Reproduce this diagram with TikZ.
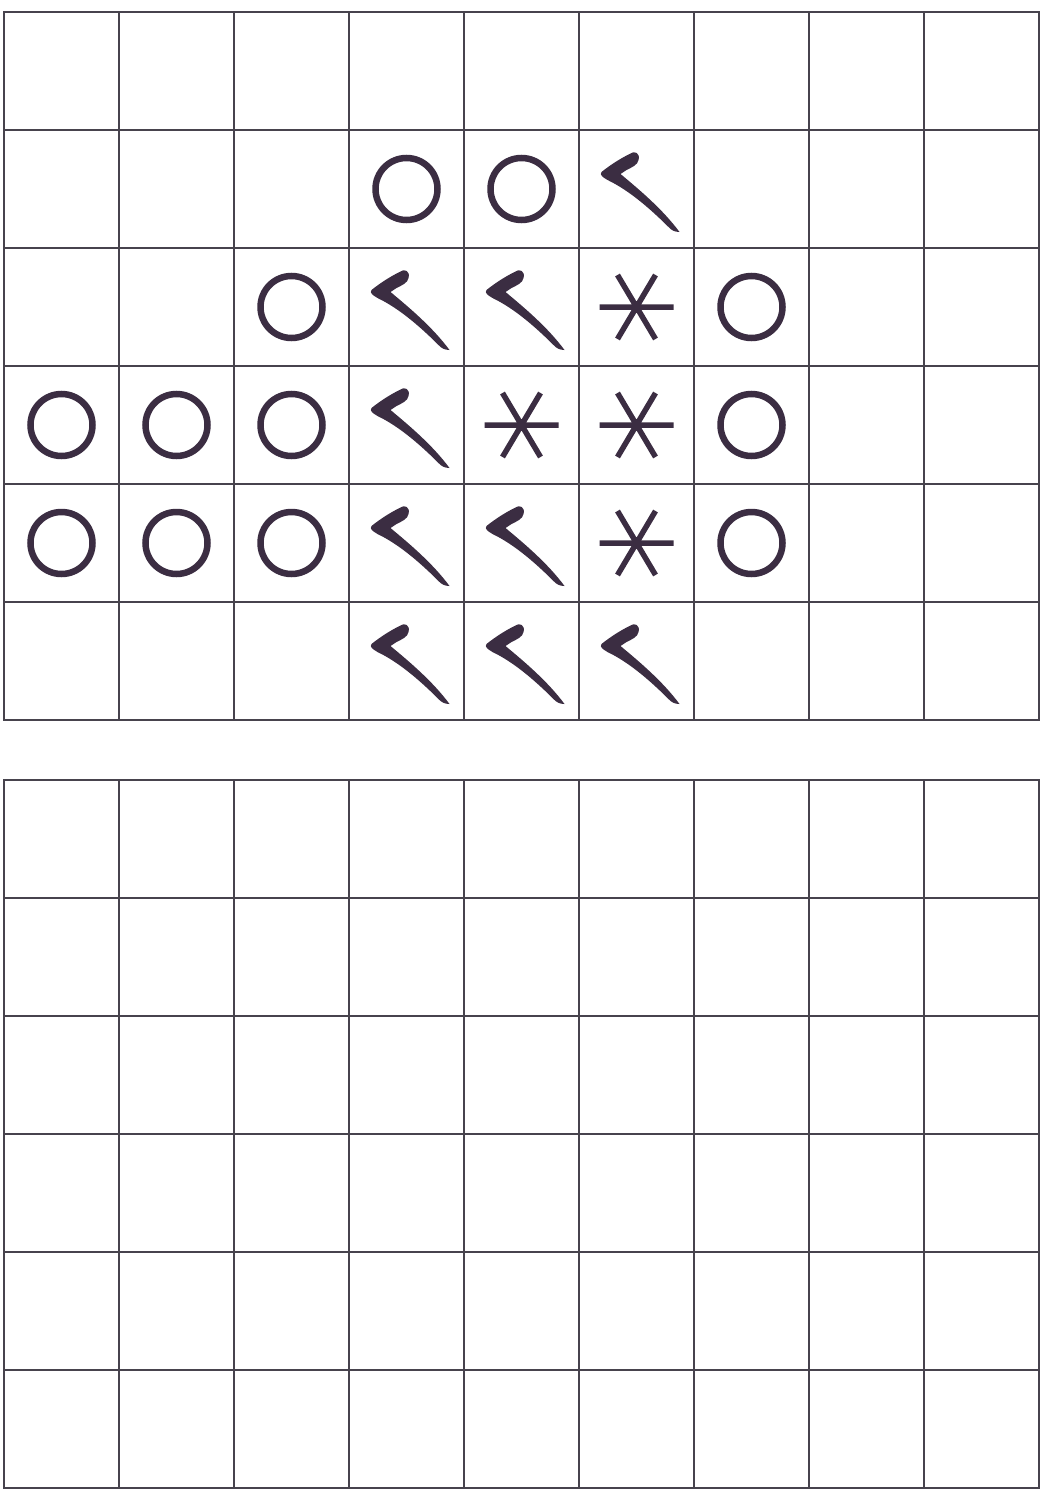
\documentclass[tikz,border=0pt]{standalone}
\definecolor{ink}{HTML}{3B2D42}
\definecolor{rule}{HTML}{47434D}
\tikzset{
  gridline/.style={draw=rule,line width=0.05cm,line cap=rect},
  ring/.pic={\draw[ink,line width=0.13cm] (0,0) circle[radius=31];},
  star/.pic={\draw[ink,line width=0.11cm] (-37,0) -- (37,0) (-19,-32) -- (19,32) (19,-32) -- (-19,32);},
  hook/.pic={\fill[ink] (-35,-17) .. controls (-25,-25) and (-15,-31) .. (-7,-35)
      .. controls (-2,-39) and (4,-36) .. (2,-29) .. controls (1,-24) and (-4,-22) .. (-10,-19)
      -- (-16,-15) .. controls (2,0) and (26,20) .. (43,43)
      .. controls (38,43) and (35,41) .. (33,39) .. controls (16,22) and (-6,2) .. (-29,-9)
      .. controls (-34,-12) and (-37,-14) .. (-35,-17) -- cycle;}
}
\begin{document}
\begin{tikzpicture}[x=0.02cm,y=-0.02cm]
  \fill[white] (0,0) rectangle (1049,1490);
  \useasboundingbox (0,0) rectangle (1049,1490);
  % two empty charts, 9 columns by 6 rows
  \foreach \gy in {12,780} {
    \foreach \c in {0,...,9}
      \draw[gridline] ({4+115*\c},\gy) -- ({4+115*\c},{\gy+708});
    \foreach \r in {0,...,6}
      \draw[gridline] (4,{\gy+118*\r}) -- (1039,{\gy+118*\r});
  }
  % symbols of the upper chart (column/row)
  \foreach \c/\r in {3/1,4/1,2/2,6/2,0/3,1/3,2/3,6/3,0/4,1/4,2/4,6/4}
    \pic at ({61.5+115*\c},{71+118*\r}) {ring};
  \foreach \c/\r in {5/2,4/3,5/3,5/4}
    \pic at ({61.5+115*\c},{71+118*\r}) {star};
  \foreach \c/\r in {5/1,3/2,4/2,3/3,3/4,4/4,3/5,4/5,5/5}
    \pic at ({61.5+115*\c},{71+118*\r}) {hook};
\end{tikzpicture}
\end{document}
